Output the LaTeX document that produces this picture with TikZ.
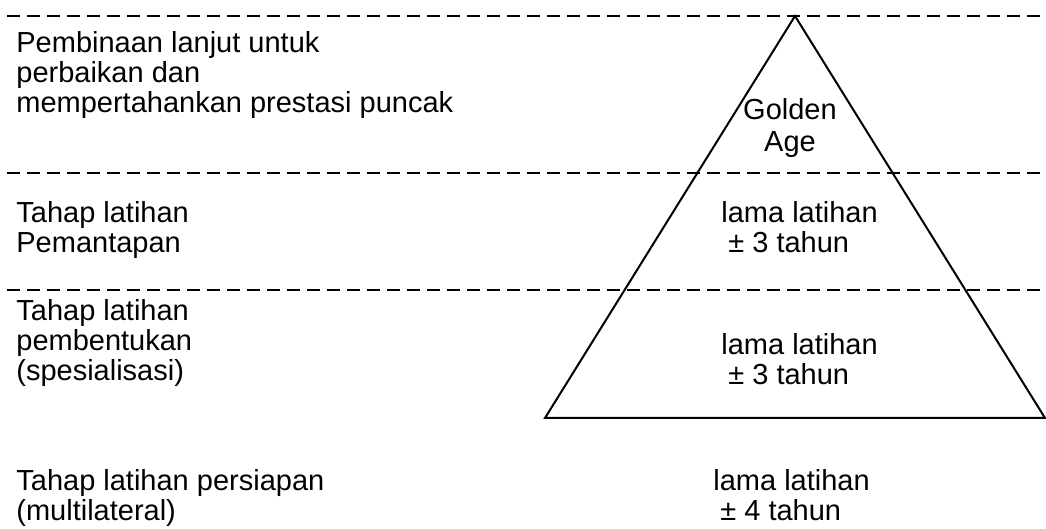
\documentclass[tikz,border=0pt]{standalone}
\usepackage{fontspec}
\setmainfont{Liberation Sans}
\usepackage{tikz}
\usetikzlibrary{positioning}

\tikzset{
    phasetext/.style={anchor=base west, align=left, inner sep=0pt,
        font=\fontsize{14.5}{15}\selectfont},
    agetext/.style={anchor=base, align=center, inner sep=0pt,
        font=\fontsize{14.5}{16}\selectfont},
    boundary/.style={draw=black, line width=0.8pt, dash pattern=on 6.5pt off 3.5pt},
    pyramid/.style={draw=black, line width=1pt, line join=miter}
}

\begin{document}
\begin{tikzpicture}[x=0.5pt, y=-0.5pt]

    % Frame of the page
    \useasboundingbox (0,0) rectangle (1046,529);

    % Phase boundaries
    \coordinate (lineA west) at (7,16);
    \coordinate (lineA east) at (1046,16);
    \coordinate (lineB west) at (7,173);
    \coordinate (lineB east) at (1046,173);
    \coordinate (lineC west) at (7,290);
    \coordinate (lineC east) at (1046,290);
    \draw[boundary] (lineA west) -- (lineA east);
    \draw[boundary] (lineB west) -- (lineB east);
    \draw[boundary] (lineC west) -- (lineC east);

    % Pyramid
    \coordinate (apex) at (795,16);
    \coordinate (base west) at (545,418);
    \coordinate (base east) at (1045,418);
    \draw[pyramid] (apex) -- (base west) -- (base east) -- cycle;

    % Peak phase (anchored at the last line)
    \node[phasetext] (peak) at (16,113) {Pembinaan lanjut untuk\\perbaikan dan\\mempertahankan prestasi puncak};
    \node[agetext] (golden) at (790,152) {Golden\\Age};

    % Consolidation phase
    \node[phasetext] (stabil) at (16,253) {Tahap latihan\\Pemantapan};
    \node[phasetext] (stabil time) at (721,253) {lama latihan\\\hspace*{3.5pt}± 3 tahun};

    % Specialisation phase
    \node[phasetext] (spesial) at (16,381) {Tahap latihan\\pembentukan\\(spesialisasi)};
    \node[phasetext] (spesial time) at (721,385) {lama latihan\\\hspace*{3.5pt}± 3 tahun};

    % Preparation phase
    \node[phasetext] (persiapan) at (16,521) {Tahap latihan persiapan\\(multilateral)};
    \node[phasetext] (persiapan time) at (713,521) {lama latihan\\\hspace*{3.5pt}± 4 tahun};

\end{tikzpicture}
\end{document}
